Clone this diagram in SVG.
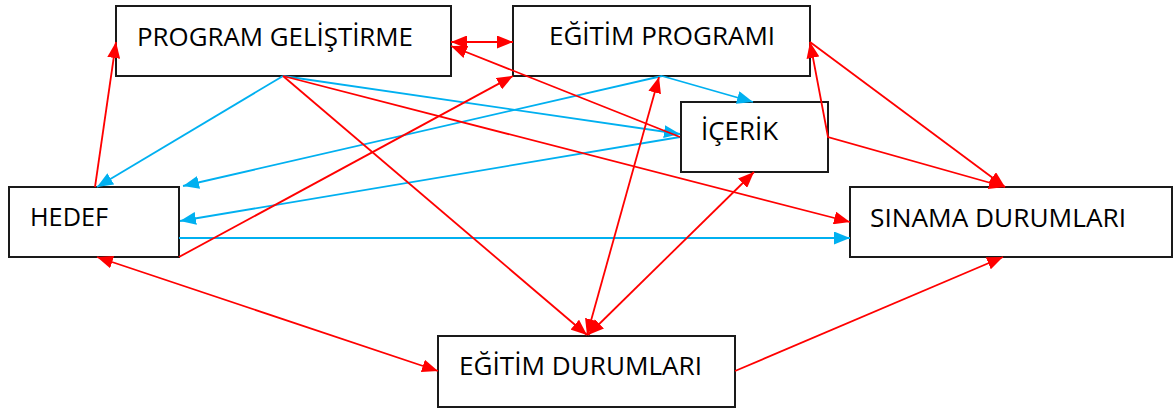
<svg xmlns="http://www.w3.org/2000/svg" width="1173" height="409" viewBox="0 0 1173 409">
<style>
.box{fill:#fff;stroke:#1a1a1a;stroke-width:2}
.lbl{font-family:"Open Sans","Noto Sans","DejaVu Sans",sans-serif;font-size:25px;fill:#000}
.r{stroke:#ff0000;stroke-width:1.8;fill:none}
.b{stroke:#00b0f0;stroke-width:1.8;fill:none}
.r.e,.r.d{marker-end:url(#ar)}
.r.d{marker-start:url(#ar)}
.b.e{marker-end:url(#ab)}
</style>
<defs>
<marker id="ar" markerUnits="userSpaceOnUse" markerWidth="17" markerHeight="13" refX="16" refY="6.5" orient="auto-start-reverse"><path d="M0,0 L16,6.5 L0,13 z" fill="#ff0000"/></marker>
<marker id="ab" markerUnits="userSpaceOnUse" markerWidth="17" markerHeight="13" refX="16" refY="6.5" orient="auto-start-reverse"><path d="M0,0 L16,6.5 L0,13 z" fill="#00b0f0"/></marker>
</defs>
<rect width="1173" height="409" fill="#fff"/>
<g id="program-gelistirme"><rect class="box" x="116" y="6" width="335" height="70"/><text class="lbl" x="137" y="46" textLength="276" lengthAdjust="spacingAndGlyphs">PROGRAM GELİŞTİRME</text></g>
<g id="egitim-programi"><rect class="box" x="513" y="6" width="297" height="70"/><text class="lbl" x="549" y="45" textLength="226" lengthAdjust="spacingAndGlyphs">EĞİTİM PROGRAMI</text></g>
<g id="icerik"><rect class="box" x="681" y="102" width="147" height="70"/><text class="lbl" x="701" y="140" textLength="77" lengthAdjust="spacingAndGlyphs">İÇERİK</text></g>
<g id="hedef"><rect class="box" x="9" y="187" width="170" height="70"/><text class="lbl" x="30" y="226" textLength="78" lengthAdjust="spacingAndGlyphs">HEDEF</text></g>
<g id="sinama-durumlari"><rect class="box" x="850" y="187" width="322" height="70"/><text class="lbl" x="870" y="227" textLength="256" lengthAdjust="spacingAndGlyphs">SINAMA DURUMLARI</text></g>
<g id="egitim-durumlari"><rect class="box" x="438" y="336" width="297" height="71"/><text class="lbl" x="459" y="375" textLength="243" lengthAdjust="spacingAndGlyphs">EĞİTİM DURUMLARI</text></g>
<g id="connectors">
<path class="b e" d="M283,76 L97,187"/>
<path class="b e" d="M283,76 L680,134"/>
<path class="b e" d="M680,137 L180,221"/>
<path class="b e" d="M662,76 L183,186"/>
<path class="b e" d="M662,76 L753,102"/>
<path class="b e" d="M179,238 L850,238"/>
<path class="r e" d="M95,187 L116,42"/>
<path class="r d" d="M451,42 L513,42"/>
<path class="r e" d="M680,137 L451,46"/>
<path class="r e" d="M179,257 L513,76"/>
<path class="r e" d="M283,76 L850,222"/>
<path class="r e" d="M283,76 L587,335"/>
<path class="r d" d="M587,335 L659,77"/>
<path class="r d" d="M588,335 L754,172"/>
<path class="r d" d="M97,257 L438,371"/>
<path class="r e" d="M735,371 L1003,257"/>
<path class="r e" d="M810,42 L1005,187"/>
<path class="r d" d="M810,42 L828,137 L1005,187"/>
</g>
</svg>
